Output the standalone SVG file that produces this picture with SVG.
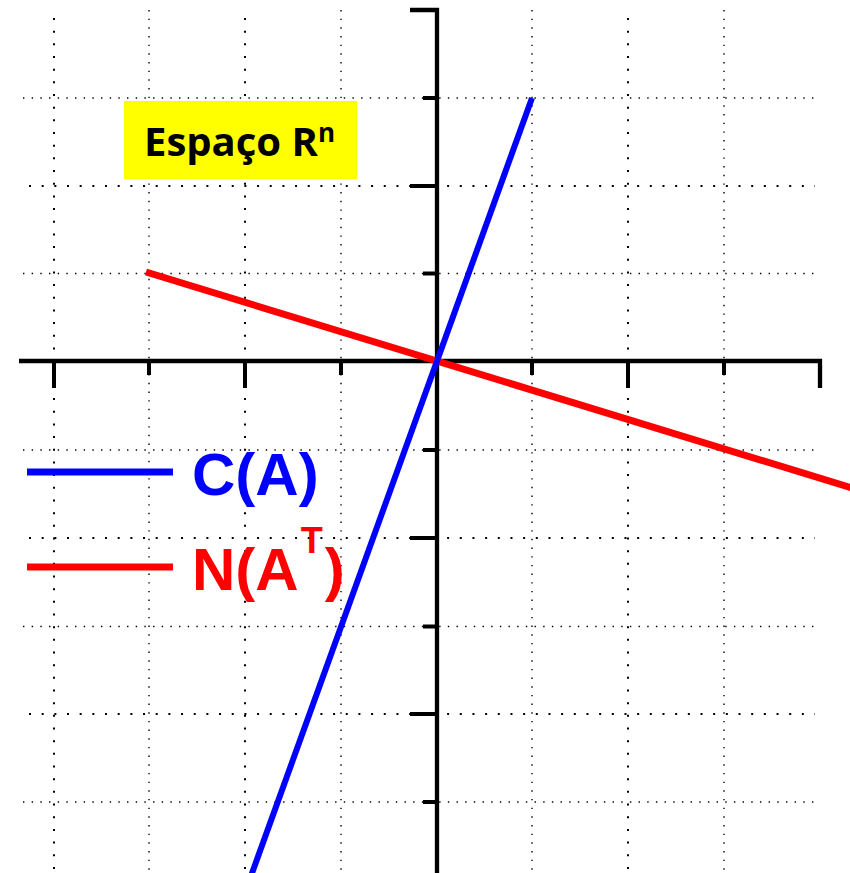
<svg xmlns="http://www.w3.org/2000/svg" width="850" height="873" viewBox="0 0 850 873">
<style>
.gs{stroke:#000;stroke-width:1.4;stroke-dasharray:1.4 7.27;fill:none}
.gb{stroke:#000;stroke-width:2;stroke-dasharray:2 10.67;fill:none}
.ax{stroke:#000;stroke-width:4.3;fill:none;stroke-linecap:butt}
.tk{stroke:#000;stroke-width:4;fill:none}
.lbl{font-family:"Liberation Sans",Arial,sans-serif;font-weight:bold}
</style>
<rect width="850" height="873" fill="#fff"/>
<g id="grid">
<line class="gb" x1="54" y1="18" x2="54" y2="873"/>
<line class="gs" x1="149" y1="10" x2="149" y2="873"/>
<line class="gb" x1="245" y1="18" x2="245" y2="873"/>
<line class="gs" x1="341" y1="10" x2="341" y2="873"/>
<line class="gs" x1="532" y1="10" x2="532" y2="873"/>
<line class="gb" x1="628" y1="18" x2="628" y2="873"/>
<line class="gs" x1="724" y1="10" x2="724" y2="873"/>
<line class="gs" x1="23" y1="98" x2="815" y2="98"/>
<line class="gb" x1="29" y1="186" x2="815" y2="186"/>
<line class="gs" x1="23" y1="273.5" x2="815" y2="273.5"/>
<line class="gs" x1="23" y1="450" x2="815" y2="450"/>
<line class="gb" x1="29" y1="538" x2="815" y2="538"/>
<line class="gs" x1="23" y1="626.5" x2="815" y2="626.5"/>
<line class="gb" x1="29" y1="714" x2="815" y2="714"/>
<line class="gs" x1="23" y1="802" x2="815" y2="802"/>
</g>
<g id="axes">
<polyline class="ax" points="19,361 820,361 820,388"/>
<polyline class="ax" points="410,10 437,10 437,873"/>
<g class="tk">
<line x1="54" y1="361" x2="54" y2="388"/>
<line x1="149" y1="361" x2="149" y2="375"/>
<line x1="245" y1="361" x2="245" y2="388"/>
<line x1="341" y1="361" x2="341" y2="375"/>
<line x1="532" y1="361" x2="532" y2="375"/>
<line x1="628" y1="361" x2="628" y2="388"/>
<line x1="724" y1="361" x2="724" y2="375"/>
<line x1="423" y1="98" x2="437" y2="98"/>
<line x1="410" y1="186" x2="437" y2="186"/>
<line x1="423" y1="273.5" x2="437" y2="273.5"/>
<line x1="423" y1="450" x2="437" y2="450"/>
<line x1="410" y1="538" x2="437" y2="538"/>
<line x1="423" y1="626.5" x2="437" y2="626.5"/>
<line x1="410" y1="714" x2="437" y2="714"/>
<line x1="423" y1="802" x2="437" y2="802"/>
</g>
</g>
<g id="lines">
<line x1="146" y1="272" x2="852" y2="488" stroke="#ff0000" stroke-width="7"/>
<line x1="532" y1="98" x2="251" y2="876" stroke="#0000ff" stroke-width="6"/>
</g>
<g id="title">
<rect x="124" y="101" width="233" height="78" fill="#ffff00"/>
<text x="144" y="156" font-family="'Open Sans','Noto Sans',sans-serif" font-weight="bold" font-size="40" fill="#000">Espaço R<tspan font-size="26" dy="-14">n</tspan></text>
</g>
<g id="legend">
<line x1="27" y1="472" x2="173" y2="472" stroke="#0000ff" stroke-width="7"/>
<line x1="27" y1="567" x2="173" y2="567" stroke="#ff0000" stroke-width="7"/>
<text class="lbl" x="192" y="495" font-size="60" fill="#0000ff">C(A)</text>
<text class="lbl" x="192" y="590" font-size="60" fill="#ff0000">N(A<tspan font-size="36" dx="2" dy="-37">T</tspan><tspan dx="2" dy="37">)</tspan></text>
</g>
</svg>
